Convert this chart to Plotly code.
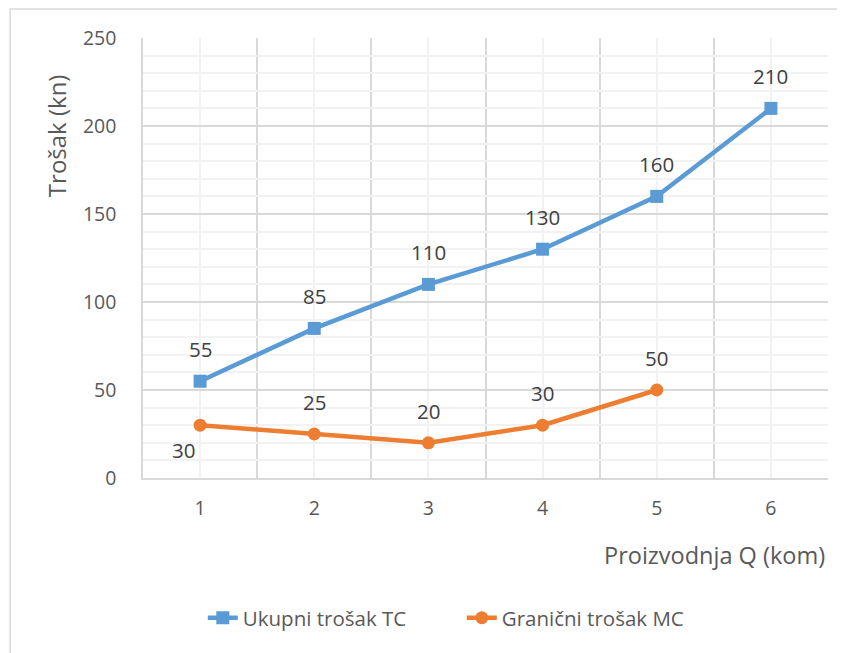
import plotly.graph_objects as go

quantity = [1, 2, 3, 4, 5, 6]
total_cost = [55, 85, 110, 130, 160, 210]
mc_quantity = [1, 2, 3, 4, 5]
marginal_cost = [30, 25, 20, 30, 50]
tc_name = "Ukupni trošak TC"
mc_name = "Granični trošak MC"

FONT = "Open Sans"
TXT = "#595959"
LBL = "#404040"
BLUE = "#5B9BD5"
ORANGE = "#ED7D31"

fig = go.Figure()
fig.add_trace(go.Scatter(x=quantity, y=total_cost, mode="lines+markers", name=tc_name,
                         line=dict(color=BLUE, width=4.5),
                         marker=dict(symbol="square", size=13, color=BLUE)))
fig.add_trace(go.Scatter(x=mc_quantity, y=marginal_cost, mode="lines+markers", name=mc_name,
                         line=dict(color=ORANGE, width=4.5),
                         marker=dict(symbol="circle", size=13, color=ORANGE)))

annotations = []
for x, y in zip(quantity, total_cost):
    annotations.append(dict(x=x, y=y, text=str(y), showarrow=False, yshift=32,
                            font=dict(family=FONT, size=20.5, color=LBL)))
for i, (x, y) in enumerate(zip(mc_quantity, marginal_cost)):
    if i == 0:
        annotations.append(dict(x=x, y=y, text=str(y), showarrow=False, yshift=-25, xshift=-17,
                                font=dict(family=FONT, size=20.5, color=LBL)))
    else:
        annotations.append(dict(x=x, y=y, text=str(y), showarrow=False, yshift=32,
                                font=dict(family=FONT, size=20.5, color=LBL)))

annotations.append(dict(xref="paper", yref="paper", x=0.9985, y=-0.175, xanchor="right", yanchor="middle",
                        text="Proizvodnja Q (kom)", showarrow=False,
                        font=dict(family=FONT, size=23.5, color=TXT)))
annotations.append(dict(xref="paper", yref="paper", x=-0.127, y=0.777, xanchor="center", yanchor="middle",
                        text="Trošak (kn)", textangle=-90, showarrow=False,
                        font=dict(family=FONT, size=24, color=TXT)))

fig.update_layout(
    width=837, height=645,
    margin=dict(l=135, r=17, t=30, b=175),
    paper_bgcolor="white", plot_bgcolor="white",
    font=dict(family=FONT, size=18, color=TXT),
    showlegend=True,
    legend=dict(orientation="h", x=0.0873, xanchor="left", y=-0.318, yanchor="middle",
                entrywidth=214, entrywidthmode="pixels",
                font=dict(family=FONT, size=20.5, color=TXT)),
    annotations=annotations,
    shapes=[dict(type="rect", xref="paper", yref="paper", x0=-0.194, x1=1.2, y0=-0.6, y1=1.066,
                 line=dict(color="#D9D9D9", width=1.5), fillcolor="rgba(0,0,0,0)", layer="below")],
)
fig.update_xaxes(range=[0.5, 6.5], tickmode="array", tickvals=quantity,
                 ticktext=[str(q) for q in quantity],
                 showgrid=True, gridcolor="#F2F2F2", gridwidth=1.5,
                 minor=dict(tickmode="array", tickvals=[q - 0.5 for q in quantity] + [6.5],
                            showgrid=True, gridcolor="#D9D9D9", gridwidth=1.5, ticks=""),
                 showline=True, linecolor="#D9D9D9", linewidth=1.5,
                 ticks="", ticklabelstandoff=12, zeroline=False,
                 tickfont=dict(family=FONT, size=19.5, color=TXT))
fig.update_yaxes(range=[0, 250], dtick=50, tick0=0,
                 showgrid=True, gridcolor="#D9D9D9", gridwidth=1.5,
                 minor=dict(dtick=10, showgrid=True, gridcolor="#F2F2F2", gridwidth=1.5, ticks=""),
                 showline=True, linecolor="#D9D9D9", linewidth=1.5,
                 ticks="", ticklabelstandoff=21, zeroline=False,
                 tickfont=dict(family=FONT, size=19.5, color=TXT))

fig.write_html("out.html")
